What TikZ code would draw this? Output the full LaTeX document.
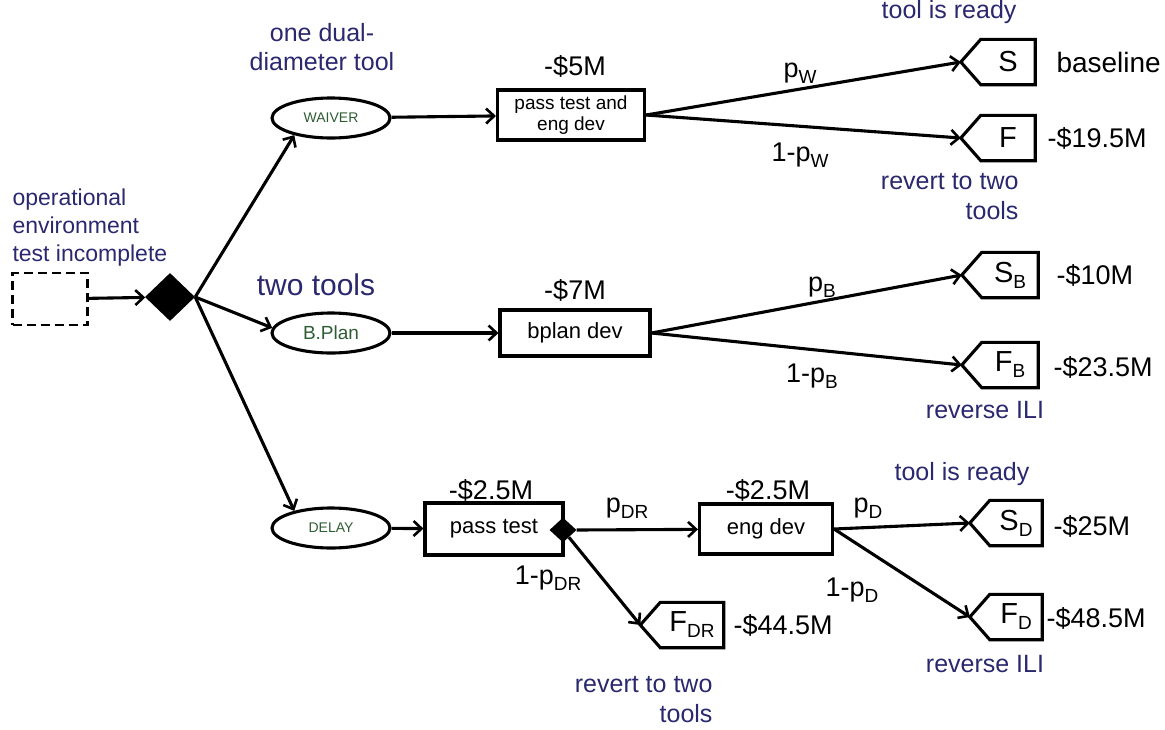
\documentclass[tikz,border=0pt]{standalone}
\usepackage{fontspec}
\setmainfont{Liberation Sans}
\usetikzlibrary{arrows.meta,shapes.geometric,calc}
\definecolor{navy}{RGB}{42,40,110}
\definecolor{leaf}{RGB}{46,92,52}
\newcommand\fs[2]{\fontsize{#1}{#2}\selectfont}
\newcommand\sub[1]{\raisebox{-6pt}{\fs{19}{19}#1}}
\tikzset{
  edge/.style={line width=3.1pt},
  arr/.style={edge,-{Straight Barb[length=8pt,width=15pt,line width=2.6pt]}},
  choice/.style={ellipse,draw,line width=3.1pt,minimum width=118pt,minimum height=40pt,inner sep=0pt,text=leaf},
  stepbox/.style={rectangle,draw,line width=3.1pt,inner sep=0pt,align=center,font=\fs{22}{22}},
  tagnode/.style={rectangle,inner sep=0pt,minimum width=54pt,minimum height=45pt,font=\fs{29}{29}},
  decision/.style={diamond,fill=black,inner sep=0pt},
  note/.style={text=navy,font=\fs{25}{30},align=center},
  money/.style={font=\fs{27}{27}},
  prob/.style={font=\fs{27}{27}},
}
% outline of a terminal tag: a box with a pointer on its left side
\newcommand\tagoutline[1]{%
  \coordinate (#1-tip) at ([xshift=-20pt]#1.west);
  \draw[edge,line join=miter] (#1.north west) -- (#1.north east) -- (#1.south east)
     -- (#1.south west) -- (#1-tip) -- cycle;}
\begin{document}
\begin{tikzpicture}[x=1pt,y=-1pt]
\useasboundingbox (0,0) rectangle (1165,729);

% start and root decision
\node[draw,line width=2.8pt,dash pattern=on 9pt off 5pt,minimum width=75pt,minimum height=52pt] (start) at (50,299) {};
\node[note,font=\fs{23}{28},anchor=west,align=left] (startlbl) at (9,228) {operational\\environment\\test incomplete};
\node[decision,minimum width=50pt,minimum height=48pt] (root) at (170,297) {};

% three options
\node[choice,font=\fs{14}{14}] (waiver) at (331,118) {WAIVER};
\node[choice,font=\fs{19}{19}] (bplan) at (331,333) {B.Plan};
\node[choice,font=\fs{14}{14}] (delay) at (331,528) {DELAY};
\node[note,font=\fs{25}{29}] (waivernote) at (322,47) {one dual-\\diameter tool};
\node[note,font=\fs{30}{30}] (bplannote) at (316,285) {two tools};

% activity boxes
\node[stepbox,font=\fs{19}{21},minimum width=147pt,minimum height=50pt] (passeng) at (571,115) {pass test and\\eng dev};
\node[stepbox,minimum width=150pt,minimum height=46pt] (bdev) at (575,333) {bplan dev};
\node[stepbox,minimum width=138pt,minimum height=52pt] (pass) at (494,529) {pass test};
\node[stepbox,minimum width=133pt,minimum height=50pt] (engdev) at (766,529) {eng dev};
\node[decision,minimum width=27pt,minimum height=25pt] (chance) at (563,530) {};

% costs above boxes
\node[money] (c1) at (575,66) {-\$5M};
\node[money] (c2) at (575,290) {-\$7M};
\node[money] (c3) at (491,490) {-\$2.5M};
\node[money] (c4) at (768,490) {-\$2.5M};

% terminal tags
\node[tagnode] (S)   at (1008,62)  {S};
\node[tagnode] (F)   at (1008,138) {F};
\node[tagnode,minimum width=56pt] (SB)  at (1010,275) {S\sub{B}};
\node[tagnode,minimum width=56pt] (FB)  at (1010,365) {F\sub{B}};
\node[tagnode,minimum width=52pt] (SD)  at (1016,523) {S\sub{D}};
\node[tagnode,minimum width=52pt] (FD)  at (1016,617) {F\sub{D}};
\node[tagnode,minimum width=63pt] (FDR) at (692,625) {F\sub{DR}};
\foreach \t in {S,F,SB,FB,SD,FD,FDR} {\tagoutline{\t}}

% outcome values
\node[money,anchor=west,font=\fs{28}{28}] (v1) at (1053,62)  {baseline};
\node[money,anchor=west] (v2) at (1044,138) {-\$19.5M};
\node[money,anchor=west] (v3) at (1053,275) {-\$10M};
\node[money,anchor=west] (v4) at (1050,367) {-\$23.5M};
\node[money,anchor=west] (v5) at (1050,526) {-\$25M};
\node[money,anchor=west] (v6) at (1043,618) {-\$48.5M};
\node[money,anchor=west] (v7) at (730,625)  {-\$44.5M};

% outcome notes
\node[note,anchor=east] (n1) at (1020,12) {tool is ready};
\node[note,align=right,anchor=north east] (n2) at (1022,170) {revert to two\\tools};
\node[note] (n3) at (985,410) {reverse ILI};
\node[note] (n4) at (962,474) {tool is ready};
\node[note] (n5) at (985,664) {reverse ILI};
\node[note,align=right,anchor=north east] (n6) at (716,673) {revert to two\\tools};

% connectors
\draw[arr] (start) -- (root);
\draw[arr] (root.east) -- (waiver.205);
\draw[arr] (root.east) -- (bplan.175);
\draw[arr] (root.east) -- (delay.155);
\draw[arr] (waiver) -- (passeng);
\draw[arr] (bplan) -- (bdev);
\draw[arr] (delay) -- (pass);
\draw[arr] (passeng.east) -- (S-tip);
\draw[arr] (passeng.east) -- (F-tip);
\draw[arr] (bdev.east) -- (SB-tip);
\draw[arr] (bdev.east) -- (FB-tip);
\draw[arr] (chance.east) -- (engdev);
\draw[arr] (chance) -- (FDR-tip);
\draw[arr] (engdev.east) -- (SD-tip);
\draw[arr] (engdev.east) -- (FD-tip);

% branch probabilities
\node[prob] (pw)  at (800,73)  {p\sub{W}};
\node[prob] (qw)  at (800,155) {1-p\sub{W}};
\node[prob] (pb)  at (822,287) {p\sub{B}};
\node[prob] (qb)  at (812,376) {1-p\sub{B}};
\node[prob] (pdr) at (627,508) {p\sub{DR}};
\node[prob] (qdr) at (548,578) {1-p\sub{DR}};
\node[prob] (pd)  at (868,508) {p\sub{D}};
\node[prob] (qd)  at (852,590) {1-p\sub{D}};
\end{tikzpicture}
\end{document}
